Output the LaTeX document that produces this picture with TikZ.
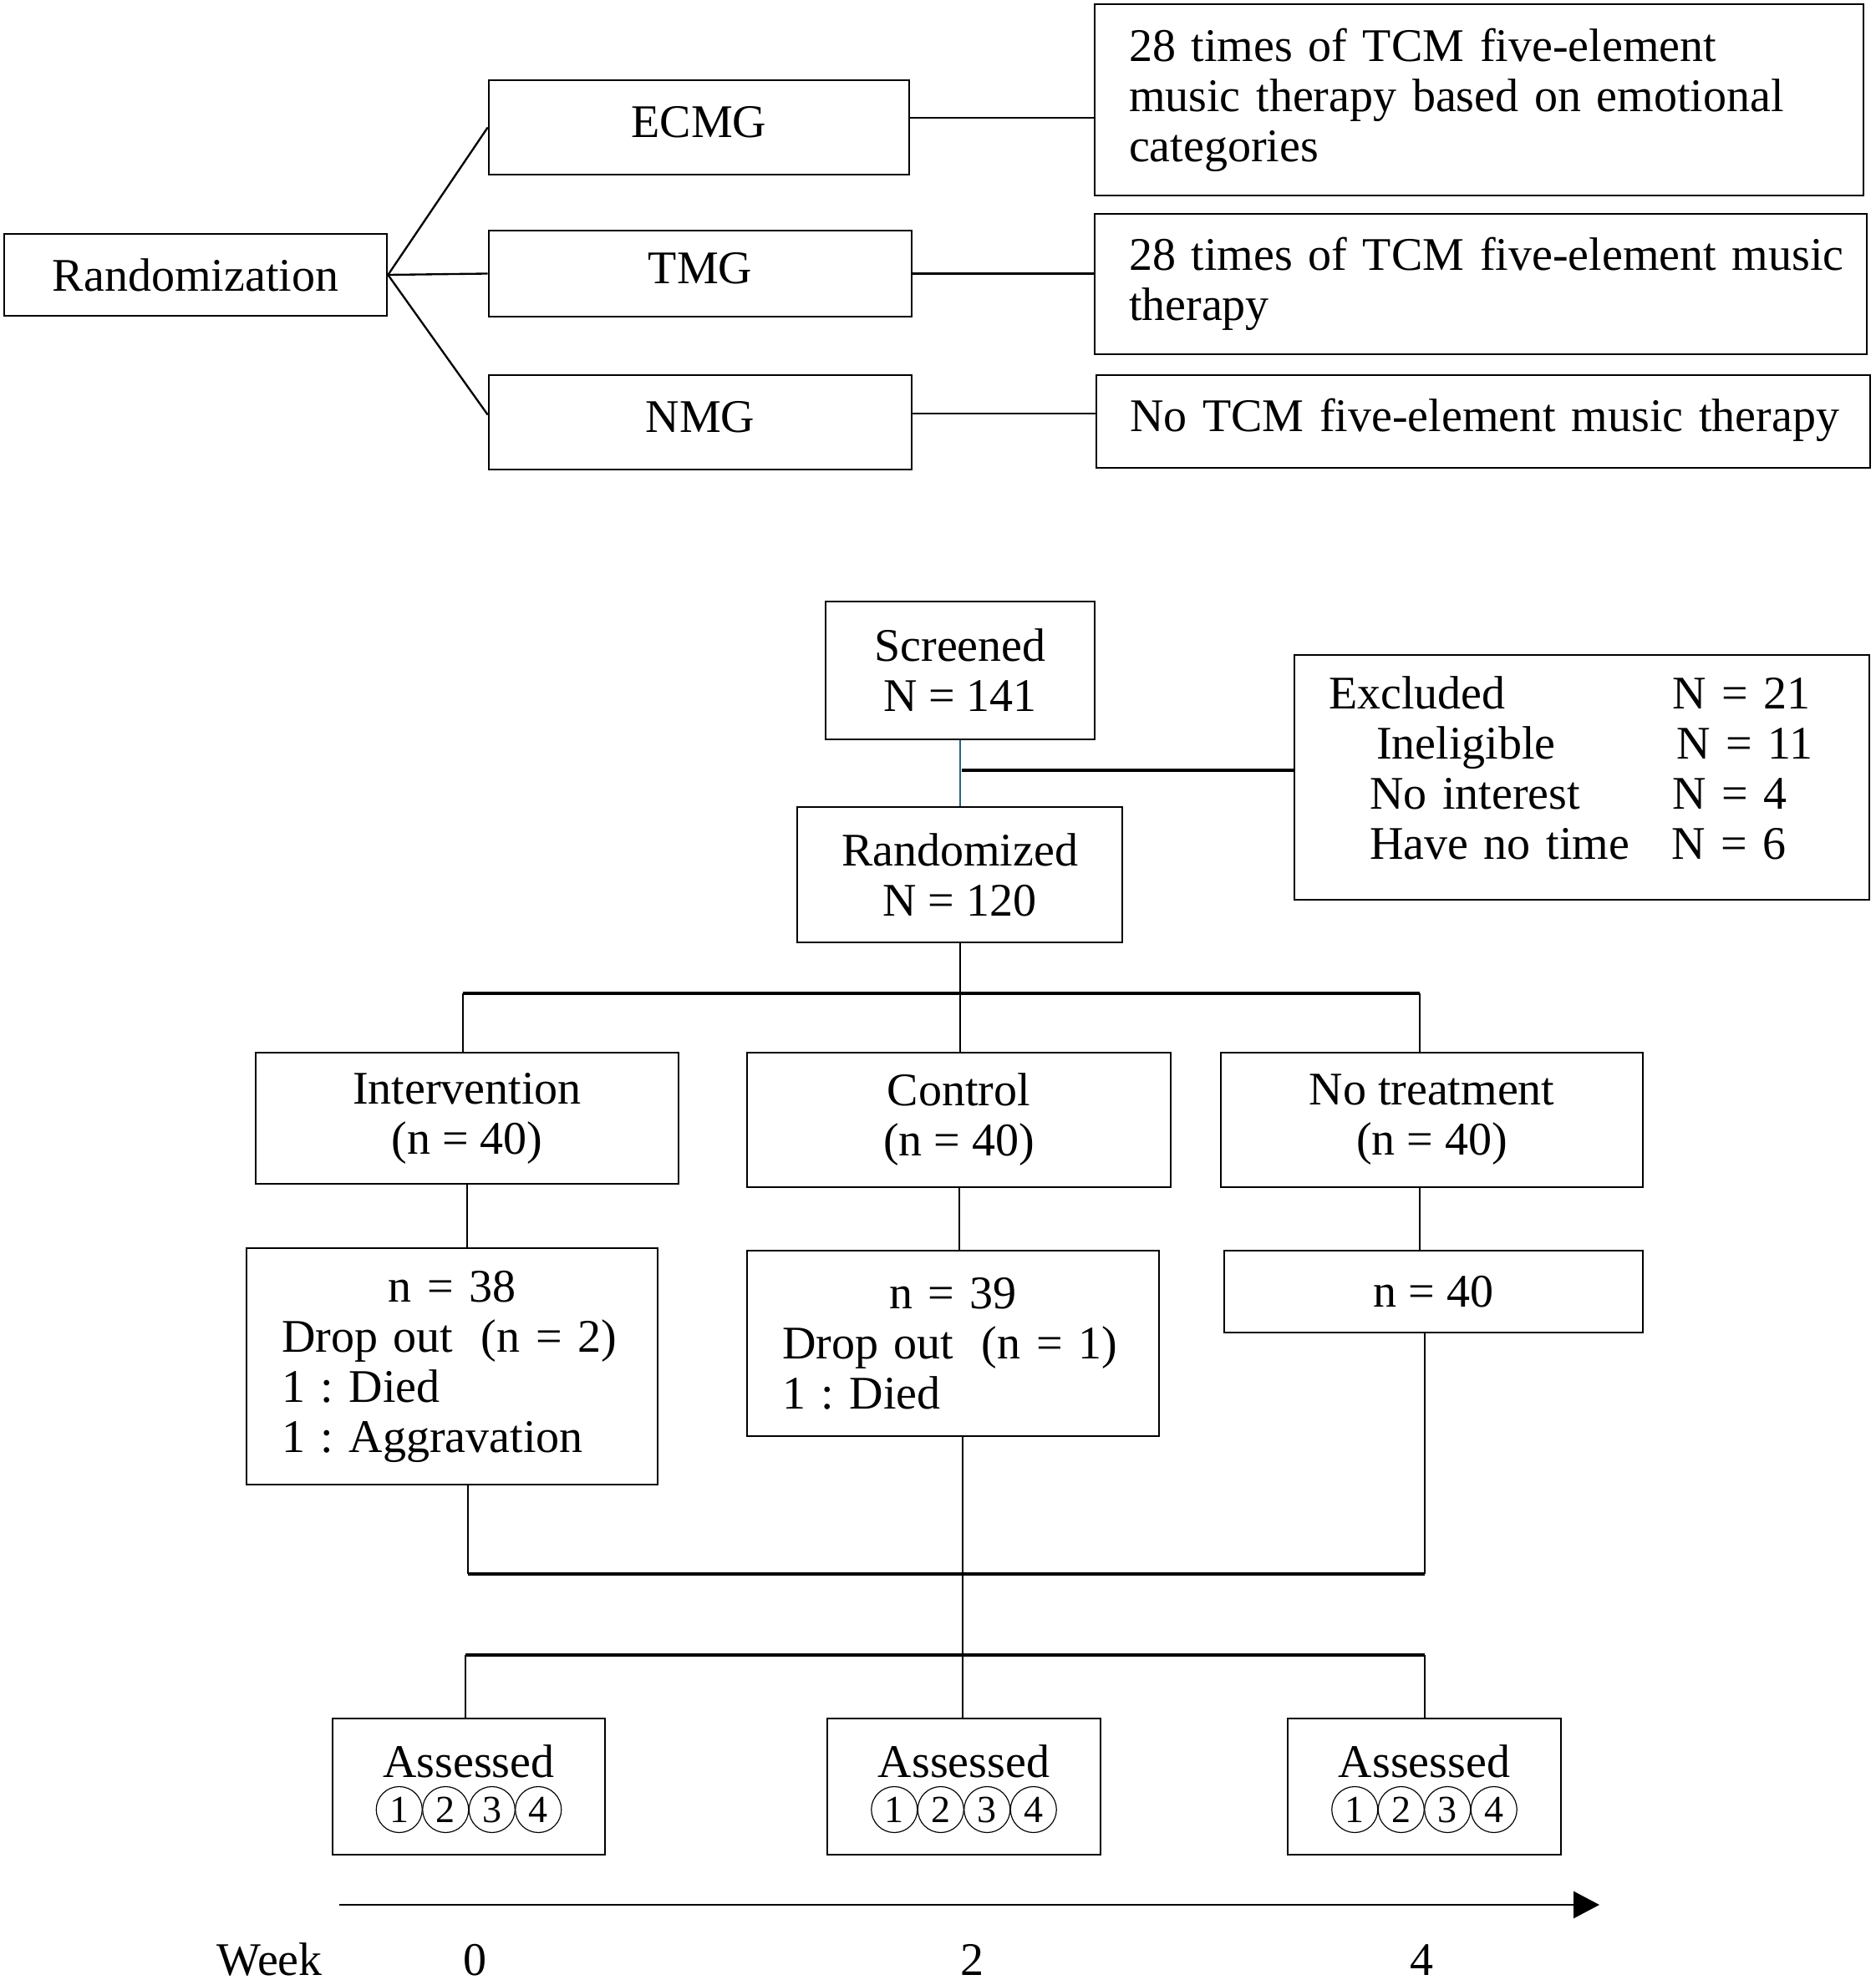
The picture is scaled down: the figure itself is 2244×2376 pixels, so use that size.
\documentclass[tikz,border=0pt]{standalone}
\usepackage{fontspec}
\setmainfont{Liberation Serif}
\usetikzlibrary{calc,arrows.meta}
\definecolor{linkteal}{RGB}{40,100,130}
\newcommand\mainfs{\fontsize{16.8pt}{18pt}\selectfont\frenchspacing}
\begin{document}
\begin{tikzpicture}[x=0.3pt,y=-0.3pt,
  box/.style={draw, line width=0.8pt, inner sep=0pt, align=center, font=\mainfs},
  lbox/.style={box, align=left, inner xsep=12.3pt},
  one/.style={text height=13.5pt, text depth=6.3pt},
  conn/.style={line width=0.7pt},
  vconn/.style={line width=0.6pt},
  hconn/.style={line width=0.95pt},
  cnum/.style={circle, draw, line width=0.35pt, minimum size=16.5pt, inner sep=0pt, font=\fontsize{13.8pt}{14pt}\selectfont},
  lbl/.style={font=\mainfs, anchor=base, inner sep=0pt}
]
\fill[white] (0,0) rectangle (2244,2376);
\useasboundingbox (0,0) rectangle (2244,2376);

% ---------- top section ----------
\node[box, minimum width=137.4pt, minimum height=29.4pt] (rz) at (234,329) {Randomization};
\node[box, one, minimum width=150.9pt, minimum height=33.9pt] (ecmg) at (836.5,152.5) {ECMG};
\node[box, one, minimum width=151.8pt, minimum height=30.9pt] (tmg) at (838,327.5) {TMG};
\node[box, one, minimum width=151.8pt, minimum height=33.9pt] (nmg) at (838,505.5) {NMG};

\node[lbox, text width=251.4pt, minimum width=276pt, minimum height=68.7pt] (b1) at (1770,119.5)
  {\mbox{28 times of TCM five-element}\\\mbox{music therapy based on emotional}\\\mbox{categories}};
\node[lbox, text width=252.6pt, minimum width=277.2pt, minimum height=50.4pt] (b2) at (1772,340)
  {\mbox{28 times of TCM five-element music}\\\mbox{therapy}};
\node[lbox, one, inner xsep=12pt, text width=253.8pt, minimum width=277.8pt, minimum height=33.3pt] (b3) at (1775,504.5)
  {\mbox{No TCM five-element music therapy}};

\draw[conn] (rz.east) -- (ecmg.west);
\draw[conn] (rz.east) -- (tmg.west);
\draw[conn] (rz.east) -- ($(nmg.west)+(0,-9)$);

\coordinate (e1) at ($(ecmg.east)+(0,-11.5)$);
\coordinate (e3) at ($(nmg.east)+(0,-10.5)$);
\draw[conn] (e1) -- (e1 -| b1.west);
\draw[conn] (tmg.east) -- (tmg.east -| b2.west);
\draw[conn] (e3) -- (e3 -| b3.west);

% ---------- flow section ----------
\node[box, minimum width=96.6pt, minimum height=49.5pt] (scr) at (1149,802.5) {Screened\\N = 141};
\node[box, minimum width=116.7pt, minimum height=48.6pt] (rnd) at (1148.5,1047) {Randomized\\N = 120};
\node[lbox, text width=181.8pt, minimum width=206.4pt, minimum height=87.9pt, text depth=61pt] (exc) at (1893,930.5)
  {\makebox[123.3pt][l]{Excluded}N = 21\\
   \makebox[124.8pt][l]{\hspace*{17.1pt}Ineligible}N = 11\\
   \makebox[123.3pt][l]{\hspace*{14.7pt}No interest}N = 4\\
   \makebox[123pt][l]{\hspace*{14.7pt}Have no time}N = 6};

\draw[vconn, linkteal, line width=0.8pt] (scr.south) -- (scr.south |- rnd.north);
\coordinate (j1) at (1151,922);
\draw[hconn] (j1) -- (j1 -| exc.west);

\node[box, minimum width=151.8pt, minimum height=47.1pt] (int) at (559,1338.5) {Intervention\\(n = 40)};
\node[box, minimum width=152.1pt, minimum height=48.3pt] (ctl) at (1147.5,1340.5) {Control\\(n = 40)};
\node[box, minimum width=151.5pt, minimum height=48.3pt] (notr) at (1713.5,1340.5) {No treatment\\(n = 40)};

\coordinate (h1l) at (554,1189);
\coordinate (h1r) at (1699,1189);
\draw[vconn] (rnd.south) -- (rnd.south |- ctl.north);
\draw[hconn] (h1l) -- (h1r);
\draw[vconn] (h1l) -- (h1l |- int.north);
\draw[vconn] (h1r) -- (h1r |- notr.north);

\node[lbox, inner xsep=12.6pt, text width=122.4pt, minimum width=147.6pt, minimum height=84.9pt] (d1) at (541,1635.5)
  {\makebox[122.4pt][c]{n = 38}\\\mbox{Drop out\hspace{0.6em}(n = 2)}\\1 : Died\\1 : Aggravation};
\node[lbox, inner xsep=12.6pt, text width=122.7pt, minimum width=147.9pt, minimum height=66.6pt] (d2) at (1140.5,1608)
  {\makebox[122.7pt][c]{n = 39}\\\mbox{Drop out\hspace{0.6em}(n = 1)}\\1 : Died};
\node[box, minimum width=150.3pt, minimum height=29.4pt] (d3) at (1715.5,1546) {n = 40};

\draw[vconn] (int.south) -- (int.south |- d1.north);
\draw[vconn] (ctl.south) -- (ctl.south |- d2.north);
\draw[vconn] (h1r |- notr.south) -- (h1r |- d3.north);

\coordinate (h2l) at (560,1884);
\coordinate (h2r) at (1705,1884);
\draw[vconn] (h2l |- d1.south) -- (h2l);
\draw[hconn] (h2l) -- (h2r);
\draw[vconn] (h2r |- d3.south) -- (h2r);

\coordinate (h3l) at (557,1981);
\coordinate (h3c) at (1152,1981);
\coordinate (h3r) at (1705,1981);
\draw[vconn] (h3c |- d2.south) -- (h3c);
\draw[hconn] (h3l) -- (h3r);

\node[box, minimum width=97.8pt, minimum height=48.9pt] (as1) at (561,2138.5) {};
\node[box, minimum width=98.1pt, minimum height=48.9pt] (as2) at (1153.5,2138.5) {};
\node[box, minimum width=98.1pt, minimum height=48.9pt] (as3) at (1704.5,2138.5) {};

\draw[vconn] (h3l) -- (h3l |- as1.north);
\draw[vconn] (h3c) -- (h3c |- as2.north);
\draw[vconn] (h3r) -- (h3r |- as3.north);

\foreach \b in {1,2,3}{
  \node[lbl] (at\b) at ($(as\b.center)+(0,-11.5)$) {Assessed};
  \foreach \k in {1,2,3,4}{
    \node[cnum] (c\b\k) at ($(as\b.center)+({(\k-2.5)*55.5},27.5)$) {\k};
  }
}

% ---------- time axis ----------
\coordinate (ax0) at (406,2280);
\coordinate (ax1) at (1914,2280);
\draw[line width=0.85pt, -{Triangle[length=9.3pt,width=9.6pt]}] (ax0) -- (ax1);
\node[lbl, anchor=base west] (wk) at (259,2364) {Week};
\node[lbl] (w0) at (568,2364) {0};
\node[lbl] (w2) at (1163,2364) {2};
\node[lbl] (w4) at (1701,2364) {4};
\end{tikzpicture}
\end{document}
